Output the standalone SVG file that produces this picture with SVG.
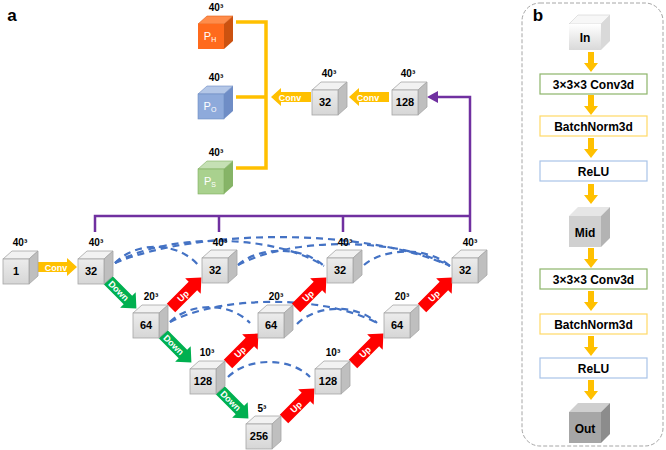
<svg xmlns="http://www.w3.org/2000/svg" xmlns:xlink="http://www.w3.org/1999/xlink" width="666" height="450" viewBox="0 0 666 450">
<style>
text{font-family:"Liberation Sans",Arial,sans-serif;font-weight:bold;}
.ct{fill:#f2f2f2;stroke:#a6a6a6;stroke-width:0.8;}
.cs{fill:#bfbfbf;stroke:#a6a6a6;stroke-width:0.8;}
.cf{fill:url(#gf);stroke:#a6a6a6;stroke-width:0.8;}
.lbl{font-size:11px;fill:#000;text-anchor:middle;}
.dim{font-size:10px;fill:#000;text-anchor:middle;}
.at{font-size:9px;fill:#fff;text-anchor:middle;}
.skip{fill:none;stroke:#4472c4;stroke-width:2.2;stroke-dasharray:7 5;}
.pur{fill:none;stroke:#7030a0;stroke-width:2.5;}
.yb{fill:none;stroke:#ffc000;stroke-width:3.5;}
.grn{fill:#00b050;}
.red{fill:#ff0000;}
.yel{fill:#ffc000;}
.box{fill:#fff;stroke-width:1.2;}
.bt{font-size:12px;fill:#000;text-anchor:middle;}
</style>
<defs>
<linearGradient id="gf" x1="0" y1="0" x2="0" y2="1"><stop offset="0" stop-color="#ececec"/><stop offset="1" stop-color="#d6d6d6"/></linearGradient>
<linearGradient id="gin" x1="0" y1="0" x2="0" y2="1"><stop offset="0" stop-color="#ffffff"/><stop offset="1" stop-color="#d9d9d9"/></linearGradient>
<g id="cb"><polygon class="ct" points="0,0 9,-8 35,-8 26,0"/><polygon class="cs" points="26,0 35,-8 35,17 26,25"/><rect class="cf" x="0" y="0" width="26" height="25"/></g>
<polygon id="da" points="0,-6 31,-6 31,-11 43,0 31,11 31,6 0,6"/>
<polygon id="ca" points="0,-5 30,-5 30,-9 40,0 30,9 30,5 0,5"/>
<polygon id="va" points="-3,0 3,0 3,11 7,11 0,20 -7,11 -3,11"/>
</defs>

<text x="12" y="21" style="font-size:17px" text-anchor="middle">a</text>
<text x="538" y="21" style="font-size:17px" text-anchor="middle">b</text>

<!-- connectors -->
<g id="connectors">
<path class="skip" d="M115,263 C136,241 178,241 199,266"/>
<path class="skip" d="M115,263 C167,233 272,233 324,266"/>
<path class="skip" d="M115,263 C199,228 366,228 450,266"/>
<path class="skip" d="M238,265 C259,246 303,246 324,266"/>
<path class="skip" d="M238,265 C291,237 397,237 450,266"/>
<path class="skip" d="M364,265 C385,247 429,247 450,266"/>
<path class="skip" d="M170,322 C190,302 230,302 250,323"/>
<path class="skip" d="M170,322 C222,295 325,295 377,323"/>
<path class="skip" d="M297,324 C317,304 357,304 377,323"/>
<path class="skip" d="M228,377 C248,357 290,357 310,377"/>

<path class="pur" d="M95,232 V216 H470 M219,216 V232 M343,216 V232 M470,232 V97 H436"/>
<polygon fill="#7030a0" points="427,97 438,91 438,103"/>

<path class="yb" d="M236,22 H266 V168 H236 M236,97 H266"/>

<g id="conv0"><use xlink:href="#ca" class="yel" transform="translate(37,267)"/><text class="at" x="56" y="270.5">Conv</text></g>
<g id="conv1"><use xlink:href="#ca" class="yel" transform="translate(389,97) rotate(180)"/><text class="at" x="368" y="100.5">Conv</text></g>
<g id="conv2"><use xlink:href="#ca" class="yel" transform="translate(311,97) rotate(180)"/><text class="at" x="290" y="100.5">Conv</text></g>

<g transform="translate(106,278) rotate(45)"><use xlink:href="#da" class="grn"/><text class="at" x="18" y="3.3">Down</text></g>
<g transform="translate(161,332) rotate(45)"><use xlink:href="#da" class="grn"/><text class="at" x="18" y="3.3">Down</text></g>
<g transform="translate(218,388) rotate(45)"><use xlink:href="#da" class="grn"/><text class="at" x="18" y="3.3">Down</text></g>

<g transform="translate(171,308) rotate(-45)"><use xlink:href="#da" class="red"/><text class="at" x="17" y="3.3">Up</text></g>
<g transform="translate(296,308) rotate(-45)"><use xlink:href="#da" class="red"/><text class="at" x="17" y="3.3">Up</text></g>
<g transform="translate(422,308) rotate(-45)"><use xlink:href="#da" class="red"/><text class="at" x="17" y="3.3">Up</text></g>
<g transform="translate(228,364) rotate(-45)"><use xlink:href="#da" class="red"/><text class="at" x="17" y="3.3">Up</text></g>
<g transform="translate(353,364) rotate(-45)"><use xlink:href="#da" class="red"/><text class="at" x="17" y="3.3">Up</text></g>
<g transform="translate(284,419) rotate(-45)"><use xlink:href="#da" class="red"/><text class="at" x="17" y="3.3">Up</text></g>
</g>

<!-- nodes panel a -->
<g id="in1"><use xlink:href="#cb" x="3" y="259"/><text class="lbl" x="16" y="275">1</text><text class="dim" x="20" y="246">40³</text></g>
<g id="a0"><use xlink:href="#cb" x="78" y="259"/><text class="lbl" x="91" y="275">32</text><text class="dim" x="96" y="246">40³</text></g>
<g id="a1"><use xlink:href="#cb" x="202" y="258"/><text class="lbl" x="215" y="274">32</text><text class="dim" x="220" y="246">40³</text></g>
<g id="a2"><use xlink:href="#cb" x="327" y="258"/><text class="lbl" x="340" y="274">32</text><text class="dim" x="345" y="246">40³</text></g>
<g id="a3"><use xlink:href="#cb" x="452" y="258"/><text class="lbl" x="465" y="274">32</text><text class="dim" x="470" y="246">40³</text></g>
<g id="b0"><use xlink:href="#cb" x="133" y="313"/><text class="lbl" x="146" y="329">64</text><text class="dim" x="151" y="300">20³</text></g>
<g id="b1"><use xlink:href="#cb" x="258" y="313"/><text class="lbl" x="271" y="329">64</text><text class="dim" x="276" y="300">20³</text></g>
<g id="b2"><use xlink:href="#cb" x="384" y="313"/><text class="lbl" x="397" y="329">64</text><text class="dim" x="402" y="300">20³</text></g>
<g id="c0"><use xlink:href="#cb" x="190" y="369"/><text class="lbl" x="203" y="385">128</text><text class="dim" x="207" y="356">10³</text></g>
<g id="c1"><use xlink:href="#cb" x="315" y="369"/><text class="lbl" x="328" y="385">128</text><text class="dim" x="333" y="356">10³</text></g>
<g id="d0"><use xlink:href="#cb" x="246" y="424"/><text class="lbl" x="259" y="440">256</text><text class="dim" x="262" y="412">5³</text></g>
<g id="t32"><use xlink:href="#cb" x="312" y="90"/><text class="lbl" x="325" y="106">32</text><text class="dim" x="329" y="77">40³</text></g>
<g id="t128"><use xlink:href="#cb" x="392" y="90"/><text class="lbl" x="405" y="106">128</text><text class="dim" x="408" y="77">40³</text></g>

<g id="ph"><polygon fill="#ff8c4a" stroke="#e0601a" stroke-width="0.6" points="198,24 207,16 233,16 224,24"/><polygon fill="#cc5210" points="224,24 233,16 233,41 224,49"/><rect x="198" y="24" width="26" height="25" fill="#ff6a1c"/><text x="210" y="40" fill="#fff" style="font-size:11px;font-weight:normal" text-anchor="middle">P<tspan style="font-size:7px" dy="2">H</tspan></text><text class="dim" x="216" y="11">40³</text></g>
<g id="po"><polygon fill="#b4c7e7" stroke="#6d8cc4" stroke-width="0.6" points="198,94 207,86 233,86 224,94"/><polygon fill="#6f8dc6" points="224,94 233,86 233,111 224,119"/><rect x="198" y="94" width="26" height="25" fill="#8eaadb" stroke="#6d8cc4" stroke-width="0.6"/><text x="210" y="110" fill="#fff" style="font-size:11px;font-weight:normal" text-anchor="middle">P<tspan style="font-size:7px" dy="2">O</tspan></text><text class="dim" x="216" y="81">40³</text></g>
<g id="ps"><polygon fill="#c5e0b4" stroke="#7fae5f" stroke-width="0.6" points="198,169 207,161 233,161 224,169"/><polygon fill="#86b467" points="224,169 233,161 233,186 224,194"/><rect x="198" y="169" width="26" height="25" fill="#a9d18e" stroke="#7fae5f" stroke-width="0.6"/><text x="210" y="185" fill="#fff" style="font-size:11px;font-weight:normal" text-anchor="middle">P<tspan style="font-size:7px" dy="2">S</tspan></text><text class="dim" x="216" y="156">40³</text></g>

<!-- panel b -->
<rect x="522" y="3" width="141" height="443" rx="18" fill="none" stroke="#a6a6a6" stroke-width="1" stroke-dasharray="4 2"/>
<g id="bconn">
<use xlink:href="#va" class="yel" x="591" y="52"/>
<use xlink:href="#va" class="yel" x="591" y="95"/>
<use xlink:href="#va" class="yel" x="591" y="138"/>
<use xlink:href="#va" class="yel" x="591" y="184"/>
<use xlink:href="#va" class="yel" x="591" y="248"/>
<use xlink:href="#va" class="yel" x="591" y="291"/>
<use xlink:href="#va" class="yel" x="591" y="336"/>
<use xlink:href="#va" class="yel" x="591" y="380"/>
</g>
<g id="bin"><polygon fill="#f7f7f7" stroke="#d0d0d0" stroke-width="0.6" points="569,24 578,15 610,15 601,24"/><polygon fill="#d9d9d9" points="601,24 610,15 610,41 601,50"/><rect x="569" y="24" width="32" height="26" fill="url(#gin)"/><text class="bt" x="585" y="42">In</text></g>
<g id="bconv1"><rect class="box" x="540" y="74" width="107" height="20" stroke="#8db56a"/><text class="bt" x="593.5" y="88.5">3×3×3 Conv3d</text></g>
<g id="bbn1"><rect class="box" x="540" y="116" width="107" height="20" stroke="#ffd966"/><text class="bt" x="593.5" y="130.5">BatchNorm3d</text></g>
<g id="brelu1"><rect class="box" x="540" y="161" width="107" height="20" stroke="#a9c4e8"/><text class="bt" x="593.5" y="175.5">ReLU</text></g>
<g id="bmid"><polygon fill="#e6e6e6" points="569,216 578,207 610,207 601,216"/><polygon fill="#b3b3b3" points="601,216 610,207 610,238 601,247"/><rect x="569" y="216" width="32" height="31" fill="#d0d0d0"/><text class="bt" x="585" y="237">Mid</text></g>
<g id="bconv2"><rect class="box" x="540" y="269" width="107" height="20" stroke="#8db56a"/><text class="bt" x="593.5" y="283.5">3×3×3 Conv3d</text></g>
<g id="bbn2"><rect class="box" x="540" y="314" width="107" height="20" stroke="#ffd966"/><text class="bt" x="593.5" y="328.5">BatchNorm3d</text></g>
<g id="brelu2"><rect class="box" x="540" y="358" width="107" height="20" stroke="#a9c4e8"/><text class="bt" x="593.5" y="372.5">ReLU</text></g>
<g id="bout"><polygon fill="#cfcfcf" points="569,412 578,403 610,403 601,412"/><polygon fill="#8c8c8c" points="601,412 610,403 610,434 601,443"/><rect x="569" y="412" width="32" height="31" fill="#a6a6a6"/><text class="bt" x="585" y="433">Out</text></g>
</svg>
